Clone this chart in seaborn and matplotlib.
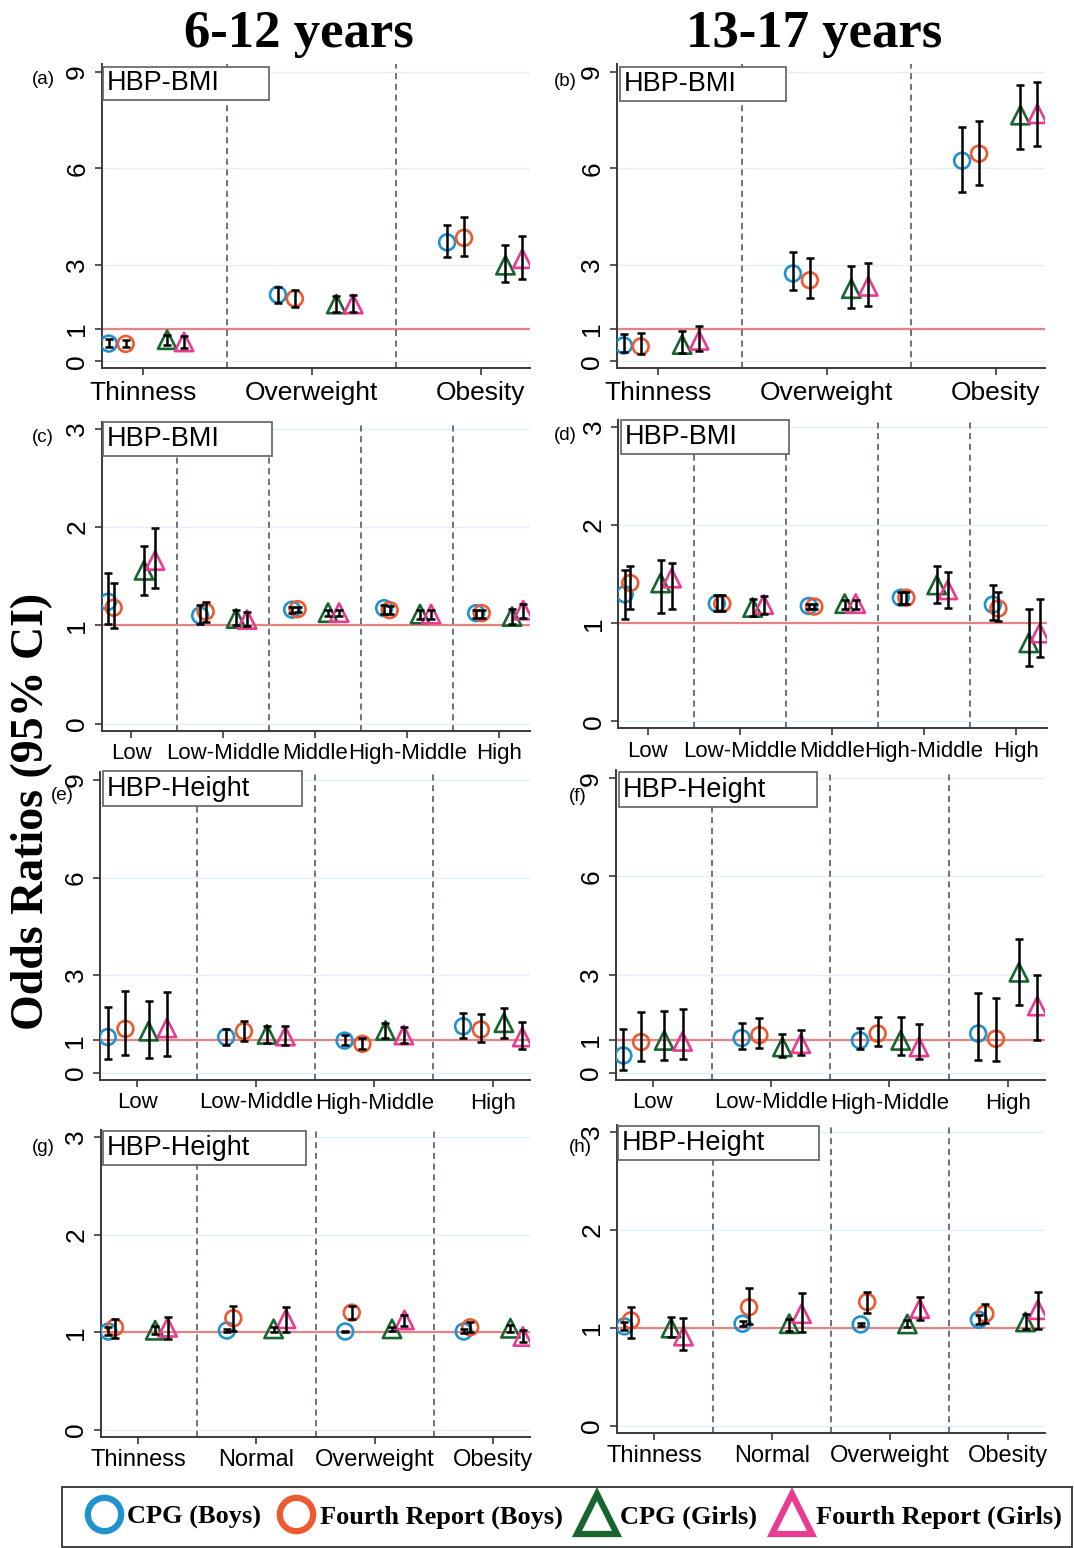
import numpy as np
import pandas as pd
import matplotlib
matplotlib.use("Agg")
import matplotlib.pyplot as plt
import seaborn as sns
from matplotlib.lines import Line2D
from matplotlib.patches import Rectangle

# ---- data (odds ratios and 95% CI) ----
series = ["CPG (Boys)", "Fourth Report (Boys)", "CPG (Girls)", "Fourth Report (Girls)"]

bmi3 = ["Thinness", "Overweight", "Obesity"]
income5 = ["Low", "Low-Middle", "Middle", "High-Middle", "High"]
height4 = ["Low", "Low-Middle", "High-Middle", "High"]
bmi4 = ["Thinness", "Normal", "Overweight", "Obesity"]

# rows = series, cols = groups
a_or = [[0.55, 2.07, 3.70], [0.54, 1.95, 3.84], [0.67, 1.78, 2.99], [0.60, 1.78, 3.19]]
a_lo = [[0.45, 1.82, 3.25], [0.43, 1.69, 3.27], [0.52, 1.54, 2.47], [0.42, 1.54, 2.57]]
a_hi = [[0.68, 2.31, 4.25], [0.67, 2.23, 4.48], [0.83, 2.02, 3.61], [0.78, 2.07, 3.89]]

b_or = [[0.49, 2.73, 6.24], [0.46, 2.52, 6.46], [0.52, 2.26, 7.66], [0.65, 2.33, 7.70]]
b_lo = [[0.28, 2.23, 5.26], [0.23, 1.97, 5.47], [0.25, 1.66, 6.60], [0.33, 1.71, 6.69]]
b_hi = [[0.85, 3.39, 7.28], [0.89, 3.22, 7.47], [0.93, 2.97, 8.61], [1.09, 3.06, 8.70]]

c_or = [[1.24, 1.10, 1.16, 1.175, 1.125], [1.18, 1.14, 1.165, 1.155, 1.125],
        [1.56, 1.07, 1.13, 1.115, 1.09], [1.66, 1.06, 1.13, 1.115, 1.155]]
c_lo = [[1.01, 1.01, 1.13, 1.12, 1.075], [0.97, 1.03, 1.14, 1.115, 1.075],
        [1.31, 1.00, 1.10, 1.065, 1.01], [1.385, 0.99, 1.10, 1.065, 1.075]]
c_hi = [[1.53, 1.21, 1.19, 1.21, 1.155], [1.43, 1.24, 1.19, 1.20, 1.155],
        [1.81, 1.16, 1.155, 1.155, 1.165], [1.99, 1.14, 1.155, 1.155, 1.22]]

d_or = [[1.295, 1.20, 1.176, 1.26, 1.19], [1.41, 1.20, 1.17, 1.26, 1.15],
        [1.41, 1.16, 1.20, 1.39, 0.80], [1.46, 1.19, 1.20, 1.34, 0.90]]
d_lo = [[1.04, 1.12, 1.14, 1.20, 1.03], [1.15, 1.12, 1.14, 1.20, 1.02],
        [1.10, 1.075, 1.15, 1.21, 0.56], [1.15, 1.095, 1.15, 1.16, 0.66]]
d_hi = [[1.54, 1.29, 1.20, 1.32, 1.39], [1.58, 1.29, 1.20, 1.32, 1.32],
        [1.64, 1.25, 1.24, 1.58, 1.15], [1.61, 1.28, 1.24, 1.525, 1.25]]

e_or = [[1.10, 1.10, 0.99, 1.43], [1.35, 1.28, 0.89, 1.33], [1.28, 1.18, 1.30, 1.54], [1.38, 1.13, 1.16, 1.10]]
e_lo = [[0.41, 0.87, 0.85, 1.08], [0.54, 0.97, 0.72, 0.94], [0.46, 0.92, 1.08, 1.06], [0.51, 0.84, 0.92, 0.72]]
e_hi = [[2.02, 1.35, 1.16, 1.84], [2.51, 1.59, 1.06, 1.81], [2.22, 1.45, 1.54, 1.98], [2.48, 1.45, 1.40, 1.57]]

f_or = [[0.53, 1.06, 0.99, 1.20], [0.94, 1.15, 1.20, 1.04], [0.99, 0.79, 0.99, 3.07], [0.96, 0.89, 0.79, 2.04]]
f_lo = [[0.10, 0.74, 0.72, 0.38], [0.35, 0.76, 0.81, 0.35], [0.38, 0.48, 0.55, 2.07], [0.41, 0.55, 0.41, 0.99]]
f_hi = [[1.35, 1.53, 1.38, 2.44], [1.86, 1.68, 1.71, 2.27], [1.88, 1.20, 1.71, 4.08], [1.94, 1.30, 1.50, 3.00]]

g_or = [[1.007, 1.017, 1.007, 1.007], [1.05, 1.143, 1.20, 1.05], [1.02, 1.034, 1.034, 1.04], [1.05, 1.137, 1.126, 0.956]]
g_lo = [[0.97, 1.00, 0.998, 0.99], [0.94, 1.017, 1.137, 1.00], [0.98, 1.007, 1.017, 1.007], [0.93, 1.007, 1.06, 0.904]]
g_hi = [[1.05, 1.03, 1.016, 1.034], [1.14, 1.27, 1.27, 1.10], [1.06, 1.05, 1.05, 1.075], [1.16, 1.256, 1.18, 1.024]]

h_or = [[1.015, 1.042, 1.035, 1.083], [1.076, 1.21, 1.264, 1.145], [0.998, 1.042, 1.04, 1.06], [0.916, 1.145, 1.196, 1.185]]
h_lo = [[0.976, 1.018, 1.02, 1.042], [0.90, 1.035, 1.15, 1.05], [0.905, 0.97, 1.007, 0.993], [0.77, 0.957, 1.083, 0.99]]
h_hi = [[1.06, 1.066, 1.05, 1.127], [1.21, 1.41, 1.37, 1.24], [1.11, 1.09, 1.08, 1.138], [1.10, 1.356, 1.31, 1.367]]

# ---- style ----
sns.set_style("ticks")
plt.rcParams["font.family"] = ["Liberation Sans", "DejaVu Sans"]
plt.rcParams["text.color"] = "black"
plt.rcParams["xtick.color"] = "black"
plt.rcParams["ytick.color"] = "black"
SERIF = ["Liberation Serif", "DejaVu Serif"]

colors = {"CPG (Boys)": "#1F93CF", "Fourth Report (Boys)": "#EE5A2F",
          "CPG (Girls)": "#17662F", "Fourth Report (Girls)": "#EA3A92"}
markers = {"CPG (Boys)": "o", "Fourth Report (Boys)": "o",
           "CPG (Girls)": "^", "Fourth Report (Girls)": "^"}
msize = {"o": 130, "^": 175}
SPINE = "#3a3a3a"

W, H = 1074, 1548
fig = plt.figure(figsize=(W / 100, H / 100), dpi=100)


def px_rect(l, t, r, b):
    return [l / W, 1 - b / H, (r - l) / W, (b - t) / H]


# dodge offsets (in group units) per panel layout
OFF3 = (-0.20, -0.10, 0.145, 0.245)
OFF5 = (-0.25, -0.19, 0.14, 0.26)
OFF4E = (-0.25, -0.10, 0.095, 0.25)
OFF4G = (-0.25, -0.195, 0.145, 0.25)

panels = [
    ("(a)", bmi3, a_or, a_lo, a_hi, (101.7, 64, 530, 368.3), OFF3, (-0.242, 2.29), 9, 19, (43, 80), (103, 67, 269, 100), "HBP-BMI"),
    ("(b)", bmi3, b_or, b_lo, b_hi, (616.7, 64, 1045, 368.3), OFF3, (-0.242, 2.29), 9, 19, (565, 82), (620, 67, 786, 101), "HBP-BMI"),
    ("(c)", income5, c_or, c_lo, c_hi, (101.7, 421.7, 530, 730.7), OFF5, (-0.32, 4.335), 3, 16, (43, 438), (103, 422, 272, 456), "HBP-BMI"),
    ("(d)", income5, d_or, d_lo, d_hi, (618.3, 420, 1046.7, 728.3), OFF5, (-0.32, 4.335), 3, 16, (565, 435), (621, 420, 789, 454), "HBP-BMI"),
    ("(e)", height4, e_or, e_lo, e_hi, (100, 771.7, 530, 1080), OFF4E, (-0.315, 3.315), 9, 16, (62, 796), (103, 771, 302, 806), "HBP-Height"),
    ("(f)", height4, f_or, f_lo, f_hi, (615.7, 770, 1045, 1080), OFF4E, (-0.315, 3.315), 9, 16, (578, 797), (619, 772, 817, 807), "HBP-Height"),
    ("(g)", bmi4, g_or, g_lo, g_hi, (100.7, 1130, 530, 1436.7), OFF4G, (-0.315, 3.31), 3, 17, (43, 1148), (103, 1131, 306, 1165), "HBP-Height"),
    ("(h)", bmi4, h_or, h_lo, h_hi, (616.7, 1125, 1045, 1432.7), OFF4G, (-0.315, 3.31), 3, 17, (580, 1148), (618, 1126, 819, 1160), "HBP-Height"),
]

for tag, groups, ors, los, his, rect, offs, xlim, ymax, xfs, tagpos, box, boxtxt in panels:
    ax = fig.add_axes(px_rect(*rect))
    rows = []
    for s, name in enumerate(series):
        for g, grp in enumerate(groups):
            rows.append({"series": name, "x": g + offs[s], "OR": ors[s][g],
                         "lo": los[s][g], "hi": his[s][g]})
    df = pd.DataFrame(rows)

    if ymax == 9:
        yticks = [0, 1, 3, 6, 9]
        ylim = (-0.22, 9.25)
    else:
        yticks = [0, 1, 2, 3]
        ylim = (-0.07, 3.07)

    for t in yticks:
        ax.axhline(t, color="#E4EEF8", lw=1.0, zorder=0)
    ax.axhline(1, color="#E38484", lw=1.6, zorder=1)
    for k in range(len(groups) - 1):
        ax.axvline(k + 0.5, color="#3F4F5A", lw=1.1, ls=(0, (4, 3)), zorder=1)

    for name in series:
        d = df[df["series"] == name]
        m = markers[name]
        sns.scatterplot(data=d, x="x", y="OR", ax=ax, marker=m, s=msize[m],
                        facecolor="none", edgecolor=colors[name], linewidth=1.9,
                        zorder=3, legend=False)
        ax.errorbar(d["x"], d["OR"], yerr=[d["OR"] - d["lo"], d["hi"] - d["OR"]],
                    fmt="none", ecolor="black", elinewidth=1.8, capsize=3,
                    capthick=1.8, zorder=4)

    ax.set_xlim(*xlim)
    ax.set_ylim(*ylim)
    ax.set_xlabel("")
    ax.set_ylabel("")
    ax.set_xticks(range(len(groups)))
    ax.set_xticklabels(groups, fontsize=xfs)
    ax.set_yticks(yticks)
    ax.set_yticklabels([str(t) for t in yticks], fontsize=19, rotation=90, va="center")
    ax.tick_params(length=5, width=1.2, color=SPINE, direction="out", pad=4)
    for sp in ["top", "right"]:
        ax.spines[sp].set_visible(False)
    for sp in ["left", "bottom"]:
        ax.spines[sp].set_color(SPINE)
        ax.spines[sp].set_linewidth(1.4)

    # panel tag and label box
    fig.text(tagpos[0] / W, 1 - tagpos[1] / H, tag, fontsize=13.5, ha="center", va="center")
    l, t, r, b = box
    fig.add_artist(Rectangle((l / W, 1 - b / H), (r - l) / W, (b - t) / H,
                             transform=fig.transFigure, facecolor="white",
                             edgecolor="#606060", lw=1.2, zorder=2))
    fig.text((l + 4) / W, 1 - (t + b) / 2 / H, boxtxt, fontsize=19.5,
             ha="left", va="center", zorder=3)

# titles
fig.text(299 / W, 1 - 34 / H, "6-12 years", fontsize=38, fontweight="bold",
         family=SERIF, ha="center", va="center")
fig.text(814 / W, 1 - 34 / H, "13-17 years", fontsize=38, fontweight="bold",
         family=SERIF, ha="center", va="center")
fig.text(32 / W, 1 - 811 / H, "Odds Ratios (95% CI)", fontsize=33, fontweight="bold",
         family=SERIF, rotation=90, ha="center", va="center")

# legend
fig.add_artist(Rectangle((62 / W, 1 - 1547 / H), (1072 - 62) / W, 60 / H,
                         transform=fig.transFigure, facecolor="white",
                         edgecolor="#404040", lw=1.4, zorder=1))
handles = []
for name in series:
    m = markers[name]
    handles.append(Line2D([], [], ls="none", marker=m, mfc="none", mec=colors[name],
                          mew=4.5, ms=24 if m == "o" else 29))
fig.legend(handles, series, loc="center left", bbox_to_anchor=(76 / W, 1 - 1517 / H),
           ncol=4, frameon=False, handletextpad=0.25, columnspacing=0.65,
           handlelength=1.3, borderaxespad=0,
           prop={"family": SERIF, "weight": "bold", "size": 19})

fig.savefig("out.png", dpi=100)
